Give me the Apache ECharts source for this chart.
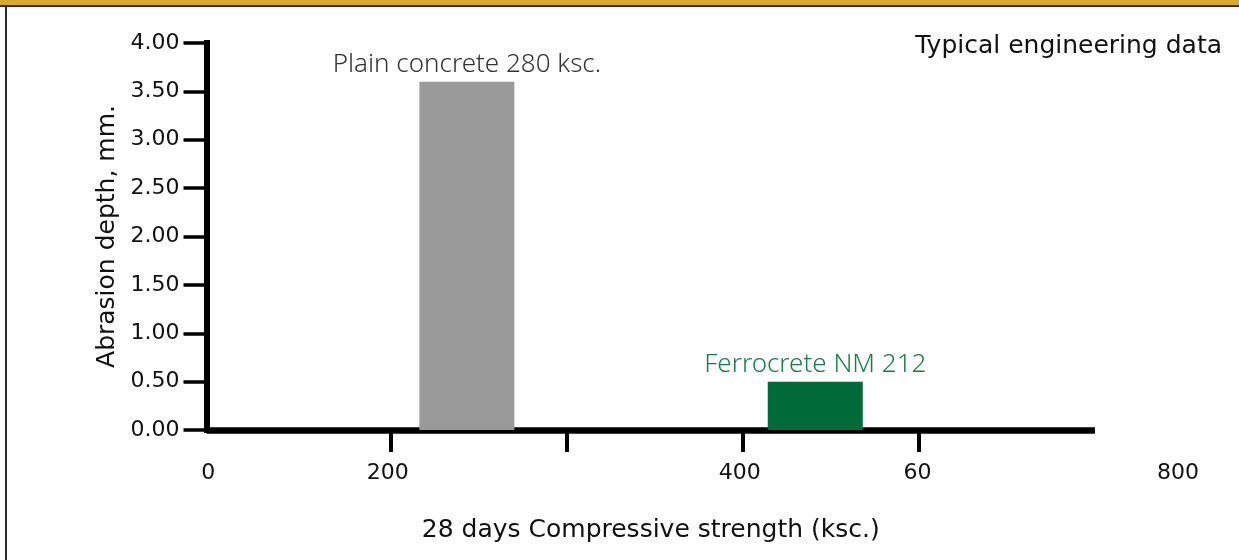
<!DOCTYPE html>
<html>
<head>
<meta charset="utf-8">
<script src="https://cdn.jsdelivr.net/npm/echarts@6/dist/echarts.min.js"></script>
<style>
    body { margin: 0; background: #fff; }
    #wrap { position: relative; width: 1239px; height: 560px; overflow: hidden; }
    .gold { position: absolute; left: 0; top: 0; width: 100%; height: 5px; background: #dba928; }
    .rule { position: absolute; left: 0; top: 5px; width: 100%; height: 2px; background: #2b2b2b; }
    .side { position: absolute; left: 5px; top: 5px; bottom: 0; width: 2px; background: #2b2b2b; }
    #chart { position: absolute; left: 0; top: 0; width: 1239px; height: 560px; }
</style>
</head>
<body>
<div id="wrap">
    <div class="gold"></div>
    <div class="rule"></div>
    <div class="side"></div>
    <div id="chart"></div>
</div>
<script>
// bars
const materials = ['Plain concrete 280 ksc.', 'Ferrocrete NM 212'];
const abrasionDepth = [3.6, 0.5];
const barSlot = [143, 341];            // where each bar sits on the x scale

// x axis (the drawn scale has one tick every 100)
const xTickValues = [100, 200, 300, 400];
const xLabelValues = [-4, 98, 298, 399, 547];
const xLabelText = ['0', '200', '400', '60', '800'];

// y axis
const yMin = 0;
const yMax = 4;
const yStep = 0.5;

const barColors = ['#9a9a9a', '#006a39'];
const labelColors = ['#333333', '#1b7b49'];

const tickFont = 'DejaVu Sans';
const textFont = 'DejaVu Sans';
const barFont = 'Noto Sans';

let chart = echarts.init(document.getElementById('chart'));

let option = {
    animation: false,
    title: {
        text: 'Typical engineering data',
        right: 12,
        top: 29,
        textStyle: {
            fontFamily: textFont,
            fontSize: 25,
            fontWeight: 'normal',
            color: '#111'
        }
    },
    grid: [
        { left: 206.5, top: 43, width: 888.5, height: 387 },
        { left: 206.5, top: 43, width: 994.4, height: 387 }
    ],
    xAxis: [
        {
            type: 'value',
            gridIndex: 0,
            min: -5,
            max: 500,
            splitLine: { show: false },
            axisLine: { lineStyle: { color: '#000', width: 6.5, cap: 'butt' } },
            axisTick: {
                show: true,
                customValues: xTickValues,
                length: 22,
                lineStyle: { color: '#000', width: 4 }
            },
            axisLabel: { show: false },
            name: '28 days Compressive strength (ksc.)',
            nameLocation: 'middle',
            nameGap: 88,
            nameTextStyle: {
                fontFamily: textFont,
                fontSize: 25,
                color: '#111'
            }
        },
        {
            type: 'value',
            gridIndex: 1,
            min: -5,
            max: 560,
            splitLine: { show: false },
            axisLine: { show: false },
            axisTick: { show: false },
            axisLabel: {
                customValues: xLabelValues,
                margin: 32,
                fontFamily: tickFont,
                fontSize: 22,
                color: '#111',
                formatter: function (v) {
                    let i = xLabelValues.indexOf(v);
                    return i >= 0 ? xLabelText[i] : '';
                }
            }
        }
    ],
    yAxis: [
        {
            type: 'value',
            gridIndex: 0,
            min: yMin,
            max: yMax,
            interval: yStep,
            splitLine: { show: false },
            axisLine: { show: true, onZero: false, lineStyle: { color: '#000', width: 6, cap: 'square' } },
            axisTick: { show: true, length: 23, lineStyle: { color: '#000', width: 3.5 } },
            axisLabel: {
                margin: 27,
                fontFamily: tickFont,
                fontSize: 22,
                color: '#111',
                formatter: function (v) {
                    return v.toFixed(2);
                }
            },
            name: 'Abrasion depth, mm.',
            nameLocation: 'middle',
            nameGap: 74,
            nameTextStyle: {
                fontFamily: textFont,
                fontSize: 25,
                color: '#111'
            }
        },
        {
            type: 'value',
            gridIndex: 1,
            min: yMin,
            max: yMax,
            show: false
        }
    ],
    series: [
        {
            type: 'bar',
            xAxisIndex: 0,
            yAxisIndex: 0,
            barWidth: 95,
            data: materials.map(function (name, i) {
                return {
                    name: name,
                    value: [barSlot[i], abrasionDepth[i]],
                    itemStyle: { color: barColors[i] },
                    label: { color: labelColors[i] }
                };
            }),
            label: {
                show: true,
                position: 'top',
                distance: 4,
                fontFamily: barFont,
                fontSize: 26,
                fontWeight: 300,
                formatter: '{b}'
            }
        }
    ]
};

chart.setOption(option);
</script>
</body>
</html>
